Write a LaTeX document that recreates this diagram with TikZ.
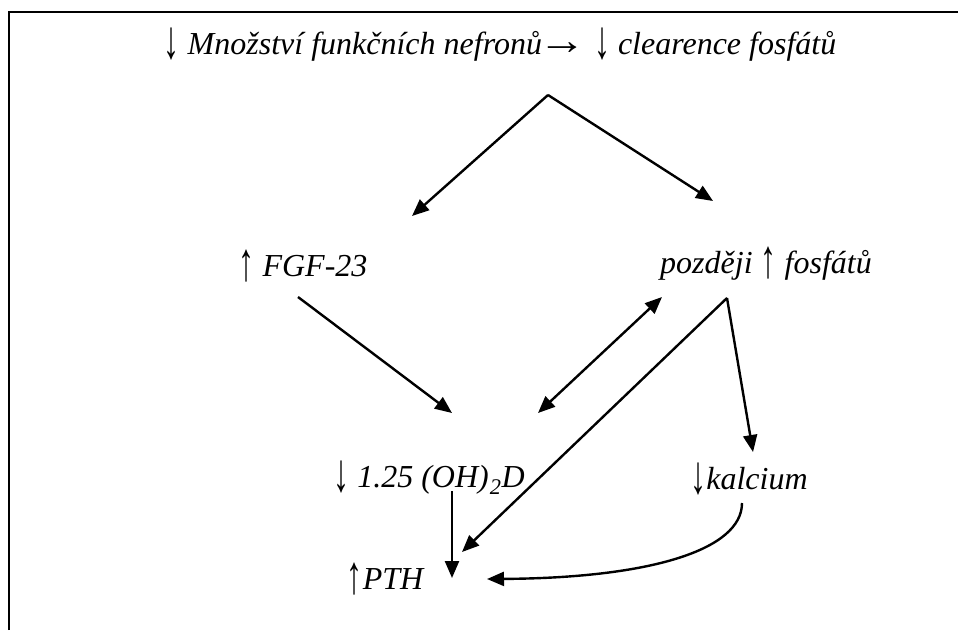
\documentclass[tikz,border=0pt]{standalone}
\usepackage{fontspec}
\setmainfont{Liberation Serif}
\usetikzlibrary{arrows.meta}
\newcommand{\arrdn}{\raisebox{-0.12em}{\scalebox{1}[1.7]{\upshape ↓}}}
\newcommand{\arrup}{\raisebox{-0.12em}{\scalebox{1}[1.7]{\upshape ↑}}}
\newcommand{\arrrt}{\scalebox{1.5}[1.3]{\upshape →}}
\begin{document}
\begin{tikzpicture}[x=1pt,y=-1pt,
  lbl/.style={font=\fontsize{32}{36}\selectfont\itshape, inner sep=0pt, anchor=center},
  conn/.style={line width=2.4pt, -{Triangle[length=17pt,width=14pt]}},
  biconn/.style={line width=2.4pt, {Triangle[length=17pt,width=14pt]}-{Triangle[length=17pt,width=14pt]}},
  framel/.style={line width=2pt}]
\useasboundingbox (0,0) rectangle (958,630);
\draw[framel] (9,630) -- (9,12) -- (958,12);
\node[lbl] (title) at (500,45) {\arrdn{} Množství funkčních nefronů\kern-4pt\arrrt{} \arrdn{} clearence fosfátů};
\node[lbl] (fgf) at (303,266) {\arrup{} FGF-23};
\node[lbl] (fos) at (766,264) {později \arrup{} fosfátů};
\node[lbl] (vitd) at (429,478) {\arrdn{} 1.25 (OH)\kern1pt\textsubscript{2}D};
\node[lbl] (kal) at (749,479) {\arrdn{}kalcium};
\node[lbl] (pth) at (385,579) {\arrup{}PTH};
\coordinate (apex) at (548,95);
\coordinate (fgfin) at (412,216);
\coordinate (fosin) at (713,201);
\coordinate (fgfout) at (298,297);
\coordinate (vitdinA) at (452,413);
\coordinate (vitdinB) at (538,413);
\coordinate (fosinB) at (662,297);
\coordinate (fosout) at (727,298);
\coordinate (kalin) at (753,452);
\coordinate (pthinA) at (462,552);
\coordinate (vitdout) at (452,491);
\coordinate (pthinB) at (452,578);
\coordinate (kalout) at (742,503);
\coordinate (pthinC) at (487,579);
\draw[conn] (apex) -- (fgfin);
\draw[conn] (apex) -- (fosin);
\draw[conn] (fgfout) -- (vitdinA);
\draw[biconn] (vitdinB) -- (fosinB);
\draw[conn] (fosout) -- (kalin);
\draw[conn] (fosout) -- (pthinA);
\draw[conn] (vitdout) -- (pthinB);
\draw[conn] (kalout) .. controls (742,550) and (650,578) .. (pthinC);
\end{tikzpicture}
\end{document}
